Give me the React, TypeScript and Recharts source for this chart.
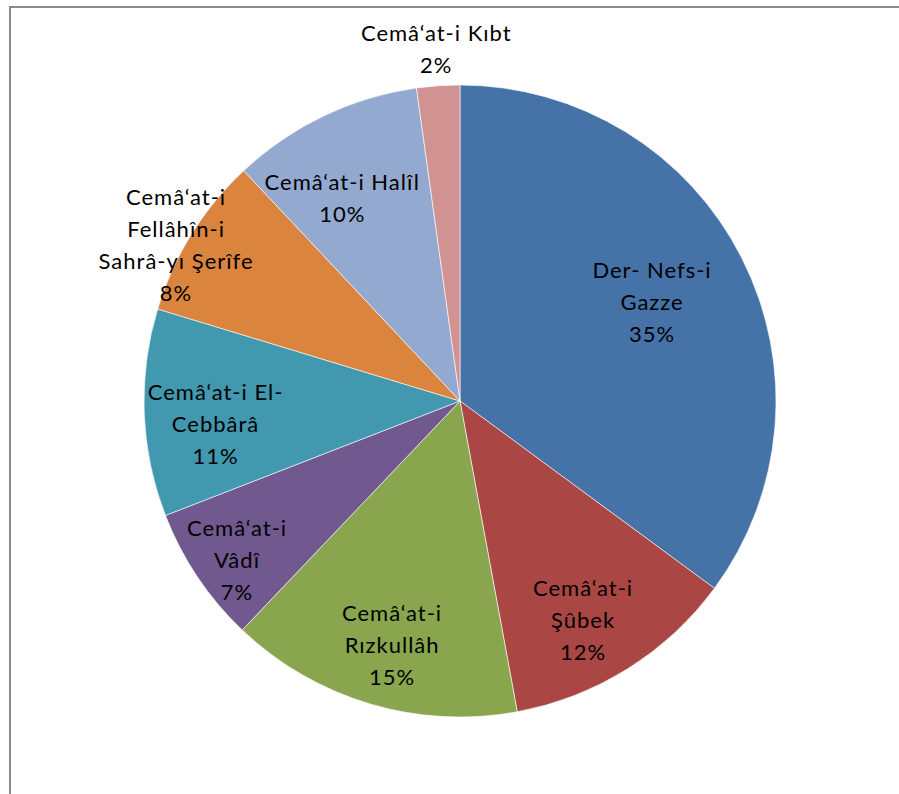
import React from "react";
import { PieChart, Pie, Cell } from "recharts";

const categories = [
  "Der- Nefs-i\nGazze",
  "Cemâ‘at-i\nŞûbek",
  "Cemâ‘at-i\nRızkullâh",
  "Cemâ‘at-i\nVâdî",
  "Cemâ‘at-i El-\nCebbârâ",
  "Cemâ‘at-i\nFellâhîn-i\nSahrâ-yı Şerîfe",
  "Cemâ‘at-i Halîl",
  "Cemâ‘at-i Kıbt",
];
const values = [35.1, 12.0, 15.0, 7.0, 10.6, 8.3, 9.8, 2.2];
const colors = ["#4572A7", "#AA4643", "#89A54E", "#71588F", "#4198AF", "#DB843D", "#93A9CF", "#D19392"];
// label placement: radius as fraction of outer radius, and angular shift (deg, clockwise) from slice middle
const labelRadiusFactor = [0.684, 0.795, 0.801, 0.867, 0.777, 1.025, 0.744, 1.115];
const labelAngleShift = [-0.5, 2.7, -1.0, -1.7, -3.3, -3.1, -4.5, 0.1];

const data = categories.map((name, i) => ({ name, value: values[i] }));

const RADIAN = Math.PI / 180;

const renderLabel = (props: any) => {
  const { cx, cy, midAngle, outerRadius, index, percent } = props;
  const r = outerRadius * labelRadiusFactor[index];
  const ang = midAngle - labelAngleShift[index];
  const x = cx + r * Math.cos(-ang * RADIAN);
  const y = cy + r * Math.sin(-ang * RADIAN);
  const lines = [...categories[index].split("\n"), `${Math.round(percent * 100)}%`];
  const lh = 32;
  const top = y - ((lines.length - 1) * lh) / 2;
  return (
    <text
      x={x}
      y={top}
      textAnchor="middle"
      fill="#000"
      fontSize={22}
      letterSpacing={1}
      fontFamily="Lato, 'Open Sans', sans-serif"
    >
      {lines.map((l, i) => (
        <tspan key={i} x={x} y={top + i * lh} dy={8}>
          {l}
        </tspan>
      ))}
    </text>
  );
};

export default function App() {
  return (
    <div style={{ position: "fixed", left: 0, top: 0, width: 899, height: 794, overflow: "hidden", background: "#fff" }}>
      <div style={{ position: "absolute", left: 0, top: 0 }}>
        <PieChart width={899} height={794} margin={{ top: 0, right: 0, bottom: 0, left: 0 }}>
          <Pie
            data={data}
            dataKey="value"
            nameKey="name"
            cx={460}
            cy={401}
            outerRadius={316}
            startAngle={90}
            endAngle={-270}
            stroke="#ffffff"
            strokeWidth={0.6}
            label={renderLabel}
            labelLine={false}
            isAnimationActive={false}
          >
            {data.map((d, i) => (
              <Cell key={i} fill={colors[i]} />
            ))}
          </Pie>
        </PieChart>
      </div>
      <div
        style={{
          position: "absolute",
          left: 9,
          top: 6,
          width: 1000,
          height: 1000,
          borderLeft: "2px solid #8a8a8a",
          borderTop: "2px solid #8a8a8a",
          boxSizing: "border-box",
          pointerEvents: "none",
        }}
      />
    </div>
  );
}
